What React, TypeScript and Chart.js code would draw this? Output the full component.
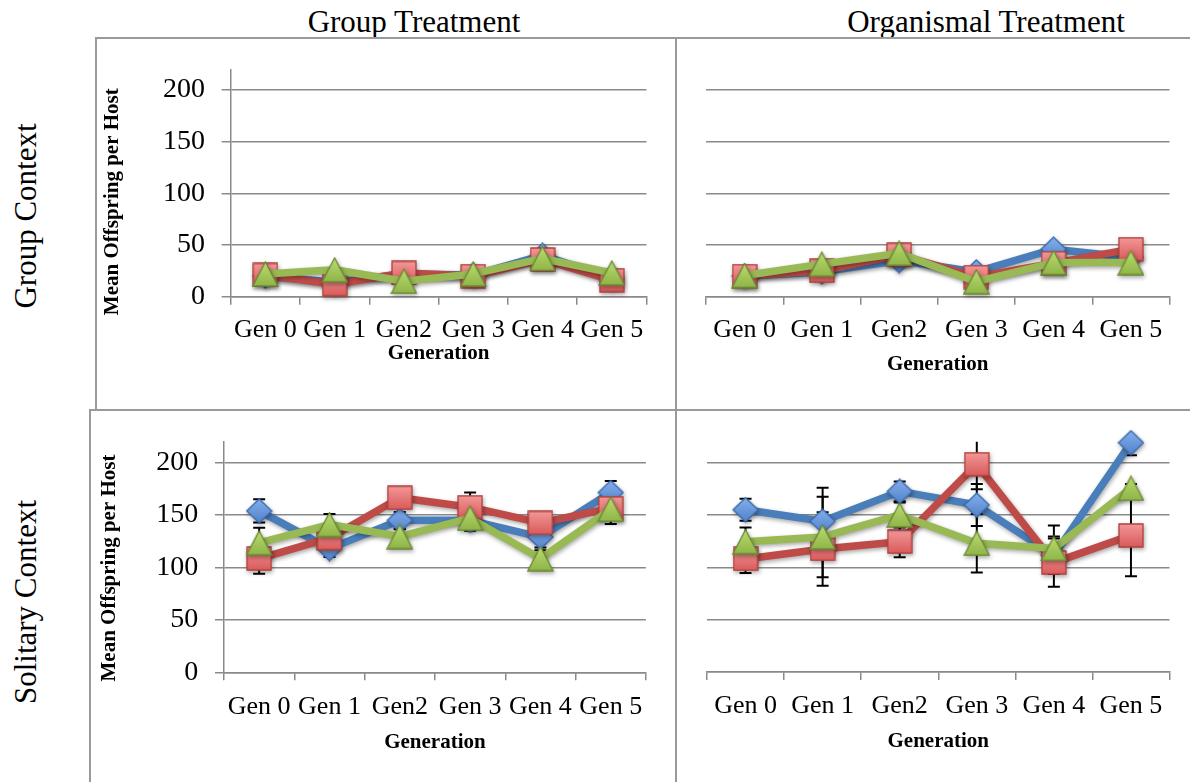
import React, { useEffect, useRef } from 'react';
import { Chart, registerables } from 'chart.js';

Chart.register(...registerables);

// ---------- data ----------
const categories = ['Gen 0', 'Gen 1', 'Gen2', 'Gen 3', 'Gen 4', 'Gen 5'];
const yTickValues = [0, 50, 100, 150, 200];
const yMax = 220;

// Group Treatment, Group Context
const gtGcBlue = [20, 14, 22, 21, 40, 18];
const gtGcRed = [21, 12, 23, 20, 36, 16];
const gtGcGreen = [22, 26, 15, 22, 37, 23];

// Organismal Treatment, Group Context
const otGcBlue = [20, 24, 35, 24, 46, 38];
const otGcRed = [20, 25, 40.5, 19, 32.5, 46];
const otGcGreen = [20.5, 31.5, 42, 14.5, 33, 33];

// Group Treatment, Solitary Context
const gtScBlue = [154, 118, 145, 145, 129, 171.5];
const gtScRed = [108.5, 128, 166.5, 157.5, 142.5, 156.5];
const gtScGreen = [123.5, 141, 129.5, 147, 108.5, 155.5];
const gtScBlueErr = [11, 8, 8, 10, 10, 11];
const gtScRedErr = [14.5, 10, 8, 14, 8, 15];
const gtScGreenErr = [14.5, 10, 7, 8, 8, 8];

// Organismal Treatment, Solitary Context
const otScBlue = [155, 144, 172.5, 159.5, 111.5, 219];
const otScRed = [108, 117.5, 124.5, 198.5, 104.5, 130.5];
const otScGreen = [124.5, 129, 150, 123, 118, 175.5];
const otScBlueErr = [10.5, 32, 9.5, 20, 18, 12];
const otScRedErr = [13.5, 35, 15, 24, 23, 39];
const otScGreenErr = [13.5, 38.5, 12, 28, 22, 4];

// ---------- styling ----------
const SERIF = '"Liberation Serif", "Times New Roman", serif';
const GRID = '#8a8a8a';

function makeMarker(kind: string, w: number, h: number, top: string, bottom: string, stroke: string) {
  const c = document.createElement('canvas');
  c.width = w;
  c.height = h;
  const g = c.getContext('2d') as CanvasRenderingContext2D;
  const grad = g.createLinearGradient(0, 0, 0, h);
  grad.addColorStop(0, top);
  grad.addColorStop(1, bottom);
  g.beginPath();
  if (kind === 'diamond') {
    g.moveTo(w / 2, 1);
    g.lineTo(w - 1, h / 2);
    g.lineTo(w / 2, h - 1);
    g.lineTo(1, h / 2);
  } else if (kind === 'square') {
    g.rect(1, 1, w - 2, h - 2);
  } else {
    g.moveTo(w / 2, 1);
    g.lineTo(w - 1, h - 1);
    g.lineTo(1, h - 1);
  }
  g.closePath();
  g.fillStyle = grad;
  g.fill();
  g.lineWidth = 1.3;
  g.strokeStyle = stroke;
  g.stroke();
  return c;
}

let markers: any = null;
function getMarkers() {
  if (!markers) {
    markers = {
      diamond: makeMarker('diamond', 27, 26, '#86b1ee', '#4f80c8', '#3a6aad'),
      square: makeMarker('square', 26, 25, '#f49a9a', '#d85858', '#b0403d'),
      triangle: makeMarker('triangle', 27, 26, '#bddd74', '#8db345', '#6c8a34'),
    };
  }
  return markers;
}

const errorBarPlugin = {
  id: 'errorBars',
  beforeDatasetsDraw(chart: any) {
    const { ctx, chartArea } = chart;
    const ys = chart.scales.y;
    ctx.save();
    ctx.beginPath();
    ctx.rect(chartArea.left, chartArea.top, chartArea.right - chartArea.left, chartArea.bottom - chartArea.top);
    ctx.clip();
    ctx.strokeStyle = '#000';
    ctx.lineWidth = 2;
    chart.data.datasets.forEach((ds: any, i: number) => {
      const errs = ds.errors;
      if (!errs) return;
      const meta = chart.getDatasetMeta(i);
      meta.data.forEach((pt: any, j: number) => {
        const v = ds.data[j];
        const e = errs[j];
        const x = pt.x;
        const y1 = ys.getPixelForValue(v + e);
        const y2 = ys.getPixelForValue(v - e);
        ctx.beginPath();
        ctx.moveTo(x, y1);
        ctx.lineTo(x, y2);
        ctx.moveTo(x - 6, y1);
        ctx.lineTo(x + 6, y1);
        ctx.moveTo(x - 6, y2);
        ctx.lineTo(x + 6, y2);
        ctx.stroke();
      });
    });
    ctx.restore();
  },
};

const shadowPlugin = {
  id: 'softShadow',
  beforeDatasetDraw(chart: any) {
    const c = chart.ctx;
    c.save();
    c.shadowColor = 'rgba(0,0,0,0.35)';
    c.shadowBlur = 4;
    c.shadowOffsetX = 1;
    c.shadowOffsetY = 2;
  },
  afterDatasetDraw(chart: any) {
    chart.ctx.restore();
  },
};

const yTitlePlugin = {
  id: 'yTitle',
  afterDraw(chart: any, _args: any, opts: any) {
    if (!opts || !opts.text) return;
    const ctx = chart.ctx;
    ctx.save();
    ctx.translate(opts.x, opts.y);
    ctx.rotate(-Math.PI / 2);
    ctx.font = 'bold 21px ' + SERIF;
    ctx.fillStyle = '#000';
    ctx.textAlign = 'center';
    ctx.textBaseline = 'middle';
    ctx.fillText(opts.text, 0, 0);
    ctx.restore();
  },
};

type PanelDef = {
  left: number;
  top: number;
  width: number;
  height: number;
  areaL: number;
  areaR: number;
  areaT: number;
  areaB: number;
  showY: boolean;
  yTitleX: number;
  yTitleY: number;
  yTickPad: number;
  xTickPad: number;
  xTitlePad: number;
  blue: number[];
  red: number[];
  green: number[];
  blueErr?: number[];
  redErr?: number[];
  greenErr?: number[];
};

const panels: PanelDef[] = [
  {
    left: 97, top: 39, width: 579, height: 370,
    areaL: 133.7, areaR: 29.5, areaT: 30.3, areaB: 257.7,
    showY: true, yTitleX: 16, yTitleY: 162.7, yTickPad: 16.7, xTickPad: 9.7, xTitlePad: 43,
    blue: gtGcBlue, red: gtGcRed, green: gtGcGreen,
  },
  {
    left: 678, top: 39, width: 512, height: 370,
    areaL: 28, areaR: 19, areaT: 30.3, areaB: 257.7,
    showY: false, yTitleX: 0, yTitleY: 0, yTickPad: 0, xTickPad: 9.7, xTitlePad: 31.4,
    blue: otGcBlue, red: otGcRed, green: otGcGreen,
  },
  {
    left: 91, top: 411, width: 585, height: 371,
    areaL: 133, areaR: 30.1, areaT: 30.7, areaB: 261.3,
    showY: true, yTitleX: 19, yTitleY: 157, yTickPad: 16.7, xTickPad: 10.8, xTitlePad: 26.7,
    blue: gtScBlue, red: gtScRed, green: gtScGreen,
    blueErr: gtScBlueErr, redErr: gtScRedErr, greenErr: gtScGreenErr,
  },
  {
    left: 678, top: 411, width: 512, height: 371,
    areaL: 29, areaR: 20, areaT: 30.7, areaB: 261,
    showY: false, yTitleX: 0, yTitleY: 0, yTickPad: 0, xTickPad: 10.8, xTitlePad: 27.7,
    blue: otScBlue, red: otScRed, green: otScGreen,
    blueErr: otScBlueErr, redErr: otScRedErr, greenErr: otScGreenErr,
  },
];

function Panel({ p }: { p: PanelDef }) {
  const ref = useRef<HTMLCanvasElement | null>(null);
  useEffect(() => {
    if (!ref.current) return;
    const m = getMarkers();
    const common = {
      borderWidth: 7.5,
      tension: 0,
      pointRadius: 13,
      pointHoverRadius: 13,
      clip: false as any,
      borderJoinStyle: 'round' as const,
      fill: false,
    };
    const chart = new Chart(ref.current, {
      type: 'line',
      data: {
        labels: categories,
        datasets: [
          { ...common, label: 'blue', data: p.blue, errors: p.blueErr, borderColor: '#4a7ebb', backgroundColor: '#4a7ebb', pointStyle: m.diamond, order: 2 } as any,
          { ...common, label: 'red', data: p.red, errors: p.redErr, borderColor: '#be4b48', backgroundColor: '#be4b48', pointStyle: m.square, order: 1 } as any,
          { ...common, label: 'green', data: p.green, errors: p.greenErr, borderColor: '#98b954', backgroundColor: '#98b954', pointStyle: m.triangle, order: 0 } as any,
        ],
      },
      options: {
        responsive: false,
        animation: false,
        events: [],
        layout: { padding: { left: 0, top: p.areaT, right: p.areaR, bottom: 0 } },
        plugins: {
          legend: { display: false },
          tooltip: { enabled: false },
          title: { display: false },
          yTitle: p.showY ? { text: 'Mean Offspring per Host', x: p.yTitleX, y: p.yTitleY } : { text: '' },
        } as any,
        scales: {
          x: {
            type: 'category',
            offset: true,
            grid: { display: true, drawOnChartArea: false, drawTicks: true, tickLength: 8, color: GRID, lineWidth: 1.5, offset: true },
            border: { display: true, color: GRID, width: 1.5 },
            ticks: { autoSkip: false, maxRotation: 0, minRotation: 0, padding: p.xTickPad, color: '#000', font: { family: SERIF, size: 26 } },
            title: { display: true, text: 'Generation', color: '#000', font: { family: SERIF, size: 21, weight: 'bold' }, padding: { top: 0, bottom: p.xTitlePad } },
            afterFit: (s: any) => {
              s.height = p.height - p.areaB;
              s.paddingLeft = 0;
              s.paddingRight = 0;
            },
          },
          y: {
            min: 0,
            max: yMax,
            afterBuildTicks: (s: any) => { s.ticks = yTickValues.map((v) => ({ value: v })); },
            afterFit: (s: any) => {
              s.width = p.areaL;
              s.paddingTop = 0;
              s.paddingBottom = 0;
            },
            grid: { color: GRID, lineWidth: 1.5, drawTicks: p.showY, tickLength: 9 },
            border: { display: p.showY, color: GRID, width: 1.5 },
            ticks: { display: p.showY, padding: p.yTickPad, color: '#000', font: { family: SERIF, size: 28 } },
            title: { display: false },
          },
        },
      } as any,
      plugins: [errorBarPlugin, shadowPlugin, yTitlePlugin],
    });
    return () => chart.destroy();
  }, [p]);
  return (
    <canvas
      ref={ref}
      width={p.width}
      height={p.height}
      style={{ position: 'absolute', left: p.left, top: p.top, width: p.width, height: p.height }}
    />
  );
}

const lineStyle = (l: number, t: number, w: number, h: number): React.CSSProperties => ({
  position: 'absolute', left: l, top: t, width: w, height: h, background: '#9a9a9a',
});

export default function App() {
  const headStyle: React.CSSProperties = {
    position: 'absolute', top: 6, fontFamily: SERIF, fontSize: 31, lineHeight: '31px',
    whiteSpace: 'nowrap', transform: 'translateX(-50%)', color: '#000',
  };
  const rowStyle = (cy: number): React.CSSProperties => ({
    position: 'absolute', left: 25, top: cy, fontFamily: SERIF, fontSize: 31, lineHeight: '31px',
    whiteSpace: 'nowrap', transform: 'translate(-50%, -50%) rotate(-90deg)', color: '#000',
  });
  return (
    <div style={{ position: 'fixed', left: 0, top: 0, width: 1190, height: 782, background: '#fff', overflow: 'hidden' }}>
      <div style={{ ...headStyle, left: 414 }}>Group Treatment</div>
      <div style={{ ...headStyle, left: 986 }}>Organismal Treatment</div>
      <div style={rowStyle(216)}>Group Context</div>
      <div style={rowStyle(602)}>Solitary Context</div>
      {panels.map((p, i) => <Panel key={i} p={p} />)}
      <div style={lineStyle(96, 37, 1094, 2)} />
      <div style={lineStyle(95, 37, 2, 373)} />
      <div style={lineStyle(675, 37, 2, 745)} />
      <div style={lineStyle(89, 409, 1101, 2)} />
      <div style={lineStyle(89, 409, 2, 373)} />
    </div>
  );
}
